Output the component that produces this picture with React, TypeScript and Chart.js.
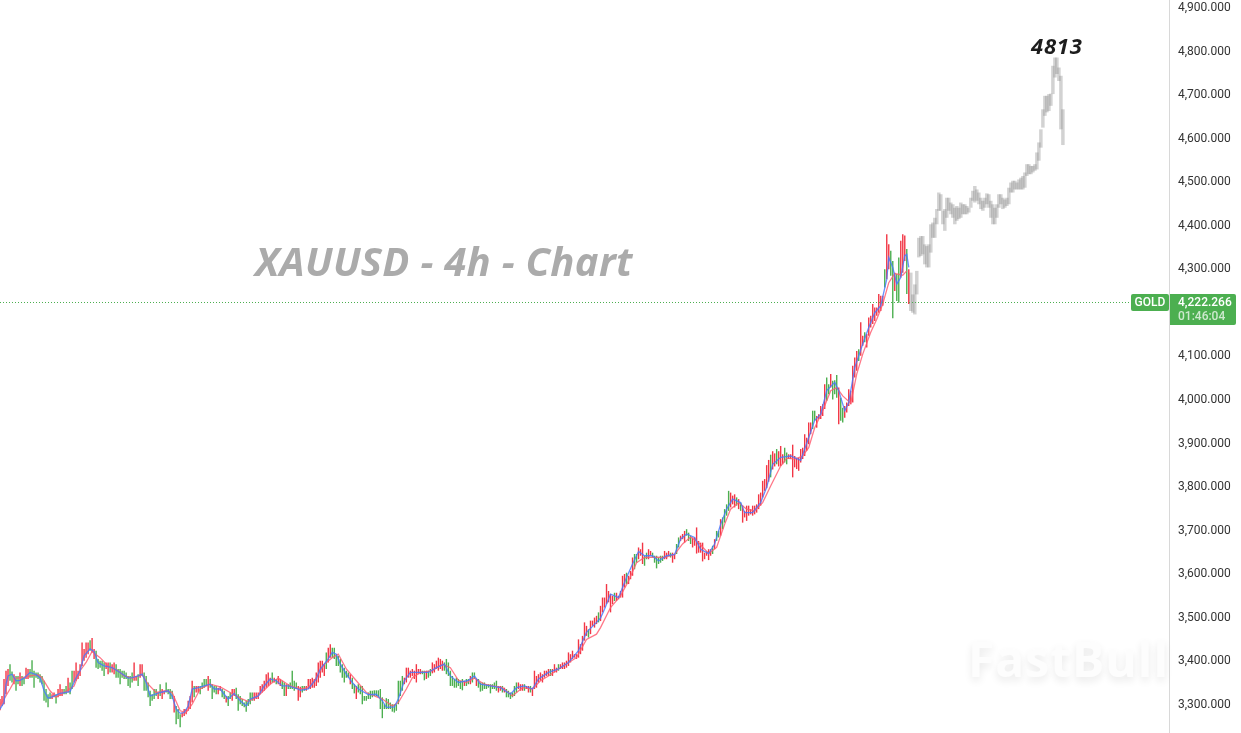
import React, { useEffect, useRef } from "react";
import { Chart, registerables } from "chart.js";

Chart.register(...registerables);

const yTickValues = [3300, 3400, 3500, 3600, 3700, 3800, 3900, 4000, 4100, 4300, 4400, 4500, 4600, 4700, 4800, 4900];
const lastPrice = 4222.266;
const lastPriceLabel = "4,222.266";
const countdownLabel = "01:46:04";
const symbolLabel = "GOLD";
const titleText = "XAUUSD - 4h - Chart";
const peakText = "4813";
const watermarkText = "FastBull";

const barHighs = [
3311,3318,3357,3376,3380,3391,3374,3368,3364,3364,3372,3364,3360,3383,3380,3380,3400,3376,3372,3372,3368,3364,3353,3334,3322,3326,3322,3326,3322,3334,
3345,3334,3334,3341,3360,3349,3376,3376,3395,3376,3391,3441,3426,3441,3441,3446,3451,3426,3422,3403,3399,3399,3395,3395,3395,3395,3391,3395,3391,3380,
3380,3376,3376,3372,3364,3364,3372,3395,3364,3368,3391,3391,3372,3364,3349,3330,3322,3334,3334,3326,3345,3334,3330,3349,3334,3334,3330,3318,3295,3288,
3276,3280,3288,3288,3307,3318,3353,3341,3341,3341,3341,3349,3357,3357,3364,3357,3345,3341,3341,3337,3341,3334,3330,3318,3318,3326,3334,3334,3337,3322,
3318,3311,3303,3307,3311,3326,3326,3326,3326,3326,3341,3345,3353,3368,3372,3360,3372,3360,3357,3364,3357,3353,3349,3345,3345,3349,3376,3353,3349,3341,
3339,3341,3341,3341,3357,3357,3360,3357,3372,3395,3399,3399,3391,3418,3429,3437,3429,3429,3414,3410,3403,3391,3383,3376,3372,3368,3360,3345,3341,3345,
3341,3341,3318,3318,3326,3330,3330,3331,3331,3331,3334,3315,3299,3313,3311,3303,3299,3299,3299,3353,3353,3364,3360,3383,3383,3376,3380,3376,3391,3380,
3380,3376,3376,3376,3376,3380,3395,3391,3399,3406,3403,3399,3395,3403,3395,3376,3364,3357,3360,3357,3353,3357,3353,3357,3357,3364,3372,3372,3357,3357,
3349,3349,3349,3345,3345,3345,3345,3349,3353,3341,3341,3341,3337,3334,3330,3326,3326,3341,3349,3349,3345,3345,3345,3341,3341,3341,3337,3376,3364,3368,
3372,3368,3376,3376,3380,3380,3380,3391,3383,3391,3391,3395,3395,3399,3418,3414,3422,3414,3414,3448,3437,3456,3487,3479,3471,3491,3491,3498,3502,3510,
3525,3544,3544,3575,3559,3552,3548,3555,3555,3548,3559,3594,3598,3601,3594,3605,3636,3644,3644,3659,3655,3670,3640,3647,3655,3651,3647,3640,3640,3636,
3640,3640,3651,3647,3651,3647,3647,3644,3667,3682,3686,3690,3697,3701,3693,3686,3682,3682,3705,3674,3670,3670,3647,3651,3655,3655,3663,3678,3697,3697,
3724,3728,3747,3758,3789,3785,3778,3781,3774,3770,3762,3755,3743,3755,3755,3747,3755,3755,3758,3781,3785,3812,3816,
3848,3860,3872,3880,3875,3885,3880,
3892,3873,3888,3877,3873,3873,3895,3869,3865,3865,3885,3888,3919,3911,3946,3946,3973,3973,3961,3965,3984,3988,4034,4049,4034,4057,4042,4043,4055,4026,
4003,3980,3984,3992,4022,4019,4076,4095,4110,4114,4176,4145,4153,4149,4187,4191,4218,4210,4210,4241,4237,4237,4298,4378,4355,4340,4317,4290,4287,4325,
4363,4378,4375,4344,4298,
];

const barLows = [
3285,3295,3299,3322,3341,3353,3349,3345,3330,3345,3341,3341,3345,3357,3357,3360,3360,3337,3360,3357,3349,3345,3307,3303,3292,3311,3311,3315,3301,3315,
3318,3318,3322,3322,3326,3322,3334,3349,3353,3357,3364,3387,3399,3406,3414,3422,3418,3403,3383,3380,3383,3376,3364,3380,3368,3372,3372,3368,3360,3360,
3345,3360,3357,3357,3341,3337,3349,3353,3353,3341,3360,3364,3330,3330,3315,3295,3307,3311,3318,3311,3318,3311,3322,3326,3322,3311,3311,3280,3253,3265,
3246,3269,3272,3276,3284,3288,3303,3315,3326,3326,3322,3334,3337,3341,3330,3337,3311,3326,3322,3322,3330,3315,3311,3303,3295,3311,3307,3318,3311,3284,
3299,3295,3292,3282,3295,3299,3307,3307,3311,3311,3322,3326,3330,3337,3341,3345,3349,3349,3345,3345,3341,3334,3318,3318,3334,3334,3334,3330,3334,3307,
3315,3326,3330,3330,3334,3334,3337,3337,3341,3349,3360,3372,3364,3380,3395,3406,3406,3403,3387,3387,3372,3360,3349,3360,3360,3345,3334,3324,3311,3326,
3322,3299,3307,3307,3311,3311,3315,3318,3318,3316,3288,3267,3288,3288,3288,3288,3282,3280,3284,3299,3318,3330,3345,3349,3360,3360,3364,3357,3349,3368,
3368,3368,3354,3357,3360,3364,3370,3372,3380,3376,3380,3376,3376,3368,3364,3341,3341,3337,3337,3341,3334,3331,3341,3341,3345,3345,3349,3357,3341,3337,
3328,3330,3334,3334,3337,3324,3334,3334,3330,3326,3330,3326,3326,3315,3315,3311,3315,3318,3326,3334,3330,3330,3330,3334,3326,3326,3318,3334,3337,3349,
3353,3349,3360,3364,3364,3364,3364,3372,3372,3376,3380,3380,3380,3383,3387,3395,3403,3406,3403,3406,3414,3422,3445,3456,3452,3460,3479,3475,3483,3487,
3490,3510,3521,3529,3533,3510,3529,3536,3536,3540,3544,3544,3567,3575,3575,3586,3594,3609,3624,3632,3640,3621,3617,3632,3632,3640,3636,3624,3611,3621,
3624,3628,3632,3632,3640,3636,3624,3632,3644,3659,3674,3678,3670,3686,3674,3667,3659,3663,3645,3647,3647,3627,3632,3640,3630,3640,3644,3655,3674,3682,
3686,3701,3716,3732,3743,3751,3758,3751,3755,3747,3743,3716,3728,3720,3732,3735,3732,3735,3739,3747,3755,3774,3789,
3795,3810,3820,3838,3845,3850,3845,
3846,3850,3854,3850,3862,3862,3820,3843,3839,3835,3854,3862,3869,3881,3896,3919,3931,3950,3934,3954,3954,3961,3977,3996,4011,4026,3999,4011,4003,3942,
3950,3946,3957,3969,3984,3988,3992,4049,4065,4087,4099,4122,4130,4118,4145,4164,4172,4179,4191,4198,4202,4214,4256,4275,4298,4283,4185,4248,4225,4221,
4279,4290,4317,4241,4218,
];

const barDirections =
  "uuuuudduddudduuddddddddddduuduuuddudduuuuuuuuduuddddduuduuddddddddduuduuddddddduduudddduddduu" +
  "uuuuduuddddudddduuddudduuddddddddduuuuuuuuududuudduddddd" +
  "uudduuuuuuuuuuduudddddddddudduddddddddddddddddddddddduuuuuuuuuddudduuuuuuddddddddddudduddudddddd" +
  "dddduududddddduuuduuduuuuuuuuuduuuduuuuu" +
  "uuuuuuuuuduuuuduuuuuuuduuuuuduuudduuudduudddddduuuduudduuuddduuuuuuuuuududdudddduuududuuuuuu" +
  "uuuuuuu" +
  "uduuduuudduuuuuuuuuuuudduuuuuddudddudduuuuuuuduuduuuuuuuuuduuddudduuud";

const ghostHighs = [
4290,4240,4263,4294,4370,4374,4374,4355,4351,4355,4401,4405,4416,4436,4474,4470,4432,4436,4462,4462,4451,4447,4439,4443,4439,4451,4447,4447,4443,4439,
4462,4478,4489,4481,4474,4462,4455,4462,4472,4470,4455,4447,4439,4447,4470,4470,4462,4458,4462,4485,4497,4501,4501,4497,4504,4508,4512,4520,4539,4539,
4535,4535,4539,4566,4589,4619,4665,4696,4696,4700,4701,4765,4784,4784,4761,4742,4665,
];

const ghostLows = [
4202,4198,4194,4240,4325,4328,4332,4309,4302,4302,4336,4370,4370,4401,4432,4432,4401,4386,4416,4432,4424,4416,4401,4409,4413,4416,4424,4424,4424,4428,
4439,4455,4451,4455,4447,4436,4432,4439,4447,4439,4416,4401,4401,4416,4439,4447,4436,4439,4443,4447,4474,4474,4481,4481,4481,4481,4481,4485,4512,4516,
4516,4520,4524,4527,4547,4577,4623,4650,4658,4661,4673,4700,4738,4746,4730,4619,4583,
];

const fastIdx = [0,2,3,4,6,8,10,12,15,18,20,22,24,26,30,35,38,40,42,45,47,49,52,56,60,64,66,69,71,73,75,77,80,84,86,88,90,92,94,96,99,102,105,107,110,112,114,117,120,123,125,129,132,135,138,141,144,149,
150,154,158,160,164,166,168,170,173,176,179,184,188,191,193,197,199,202,205,210,214,218,222,225,229,234,237,240,245,250,255,258,262,266,269,274,279,284,289,293,298,
300,302,305,309,313,316,319,322,326,329,333,337,340,343,347,350,354,357,360,363,366,370,372,376,380,383,386,390,395,400,404,407,410,413,417,419,422,424,427,431,434,437,440,443,444,446,448,450,452,453,454];
const fastEma = [3288,3303,3345,3364,3368,3353,3354,3359,3372,3367,3360,3330,3313,3316,3324,3328,3360,3376,3410,3426,3420,3395,3387,3383,3372,3359,3360,3364,3368,3349,3318,3321,3326,3330,3318,3288,3278,3280,3295,3334,3337,3341,3345,3334,3334,3322,3311,3324,3307,3295,3311,3318,3341,3357,3353,3341,3341,3334,
3331,3334,3357,3380,3403,3418,3414,3391,3368,3349,3334,3321,3322,3307,3292,3293,3311,3353,3372,3372,3372,3383,3391,3364,3349,3354,3364,3345,3341,3337,3322,3337,3341,3334,3357,3372,3380,3395,3422,3464,3487,
3497,3517,3552,3544,3590,3621,3650,3640,3640,3628,3640,3643,3678,3690,3682,3655,3645,3667,3712,3747,3770,3762,3739,3739,3762,3797,3850,3866,3869,3859,3911,3951,3965,4019,4038,4019,3973,3992,4072,4126,4164,4198,4214,4275,4325,4302,4264,4279,4329,4332,4302];

const slowIdx = [0,2,5,8,11,15,19,21,25,28,32,37,40,43,46,50,54,59,62,66,71,74,78,83,86,90,93,96,100,105,110,115,120,124,129,135,139,145,
150,154,157,162,166,169,173,178,183,187,191,196,199,203,206,210,216,221,225,229,233,237,242,246,251,256,261,266,270,274,280,288,293,298,
300,305,310,314,318,322,327,332,337,341,345,349,354,358,362,365,369,373,377,381,385,390,393,397,401,404,407,411,415,418,421,425,428,431,435,438,441,444,447,451,453];
const slowEma = [3299,3311,3334,3359,3360,3364,3367,3360,3330,3315,3326,3341,3376,3395,3420,3406,3387,3376,3364,3359,3367,3345,3326,3330,3326,3284,3280,3299,3334,3345,3339,3326,3313,3305,3318,3345,3359,3341,
3334,3337,3353,3391,3406,3414,3380,3353,3326,3318,3311,3295,3303,3334,3360,3372,3376,3391,3383,3354,3349,3359,3345,3341,3337,3318,3337,3334,3353,3364,3383,3406,3448,3460,
3475,3521,3548,3582,3624,3636,3637,3636,3643,3667,3683,3670,3645,3659,3712,3747,3762,3747,3743,3762,3800,3846,3864,3862,3869,3888,3934,3973,4019,4026,4007,3990,4057,4103,4153,4183,4218,4267,4288,4284,4294];

const slotCount = 585;
const UP = "#F23645";
const DOWN = "#4CAF50";

const sparse = (idx: number[], vals: number[]) => {
  const out: (number | null)[] = new Array(slotCount).fill(null);
  idx.forEach((k, i) => { out[k] = vals[i]; });
  return out;
};

export default function App() {
  const ref = useRef<HTMLCanvasElement>(null);
  useEffect(() => {
    const overlay = {
      id: "overlay",
      beforeDatasetsDraw(chart: any) {
        const { ctx } = chart;
        ctx.save();
        ctx.shadowColor = "rgba(0,0,0,0.09)";
        ctx.shadowBlur = 8;
        ctx.shadowOffsetY = 4;
        ctx.fillStyle = "#fdfdfd";
        ctx.font = "bold 48px 'Open Sans'";
        (ctx as any).letterSpacing = "1px";
        ctx.textAlign = "left";
        ctx.textBaseline = "alphabetic";
        ctx.fillText(watermarkText, 968, 677);
        ctx.restore();

        ctx.save();
        ctx.fillStyle = "#ababab";
        ctx.font = "italic bold 40px 'Open Sans'";
        (ctx as any).letterSpacing = "0.3px";
        ctx.textAlign = "left";
        ctx.textBaseline = "alphabetic";
        ctx.fillText(titleText, 255, 276);
        ctx.restore();
      },
      afterDraw(chart: any) {
        const { ctx, scales } = chart;
        const y = Math.round(scales.y.getPixelForValue(lastPrice)) + 0.5;
        ctx.save();
        ctx.strokeStyle = "#4CAF50";
        ctx.lineWidth = 1;
        ctx.setLineDash([1, 2]);
        ctx.beginPath();
        ctx.moveTo(0, y);
        ctx.lineTo(1131, y);
        ctx.stroke();
        ctx.setLineDash([]);

        ctx.fillStyle = "#4CAF50";
        ctx.beginPath();
        ctx.roundRect(1131, y - 8.5, 38, 17, 2);
        ctx.fill();
        ctx.beginPath();
        ctx.roundRect(1170, y - 8.5, 66, 31, [0, 2, 2, 0]);
        ctx.fill();

        ctx.textBaseline = "middle";
        ctx.textAlign = "center";
        ctx.fillStyle = "#ffffff";
        ctx.font = "500 12px Roboto";
        ctx.fillText(symbolLabel, 1150, y + 0.5);
        ctx.textAlign = "left";
        ctx.font = "500 12px Roboto";
        ctx.fillText(lastPriceLabel, 1178, y + 0.5);
        ctx.fillStyle = "rgba(255,255,255,0.72)";
        ctx.fillText(countdownLabel, 1178, y + 14);

        ctx.fillStyle = "#1d1d1d";
        ctx.font = "italic bold 22px 'Open Sans'";
        (ctx as any).letterSpacing = "0.8px";
        ctx.textAlign = "left";
        ctx.textBaseline = "alphabetic";
        ctx.fillText(peakText, 1031, 54);
        ctx.restore();
      },
    };

    const chart = new Chart(ref.current!, {
      type: "bar",
      data: {
        labels: Array.from({ length: slotCount }, (_, i) => String(i)),
        datasets: [
          {
            type: "line",
            data: sparse(fastIdx, fastEma),
            borderColor: "rgba(70,120,255,0.82)",
            borderWidth: 1.3,
            pointRadius: 0,
            spanGaps: true,
            order: 0,
          },
          {
            type: "line",
            data: sparse(slowIdx, slowEma),
            borderColor: "rgba(255,90,110,0.82)",
            borderWidth: 1.3,
            pointRadius: 0,
            spanGaps: true,
            order: 0,
          },
          {
            type: "bar",
            data: barHighs.map((h, i) => [barLows[i], h]),
            backgroundColor: barHighs.map((_, i) => (barDirections[i] === "d" ? DOWN : UP)),
            barThickness: 1.4,
            inflateAmount: 0,
            grouped: false,
            order: 1,
          },
          {
            type: "bar",
            data: [...new Array(barHighs.length).fill(null), ...ghostHighs.map((h, i) => [ghostLows[i], h])],
            backgroundColor: "rgba(130,130,130,0.36)",
            barThickness: 3.5,
            inflateAmount: 0,
            grouped: false,
            order: 1,
          },
        ],
      } as any,
      options: {
        responsive: false,
        animation: false,
        layout: { padding: 0 },
        plugins: { legend: { display: false }, tooltip: { enabled: false } },
        scales: {
          x: { type: "category", display: false, offset: false, grid: { display: false } },
          y: {
            position: "right",
            min: 3233,
            max: 4916,
            grid: { display: false, drawTicks: false },
            border: { display: true, color: "#d8d8d8", width: 1 },
            afterBuildTicks(axis: any) {
              axis.ticks = yTickValues.map((value) => ({ value }));
            },
            afterFit(axis: any) {
              axis.width = 72;
              axis.paddingTop = 0;
              axis.paddingBottom = 0;
            },
            ticks: {
              autoSkip: false,
              padding: 9,
              labelOffset: 1,
              color: "#333333",
              font: { family: "Roboto", size: 12 },
              callback: (v: any) =>
                Number(v).toLocaleString("en-US", { minimumFractionDigits: 3, maximumFractionDigits: 3 }),
            },
          },
        },
      } as any,
      plugins: [overlay],
    });
    return () => chart.destroy();
  }, []);

  return (
    <div style={{ position: "fixed", left: 0, top: 0, width: 1241, height: 733, background: "#fff" }}>
      <canvas ref={ref} width={1241} height={733} style={{ display: "block" }} />
    </div>
  );
}
